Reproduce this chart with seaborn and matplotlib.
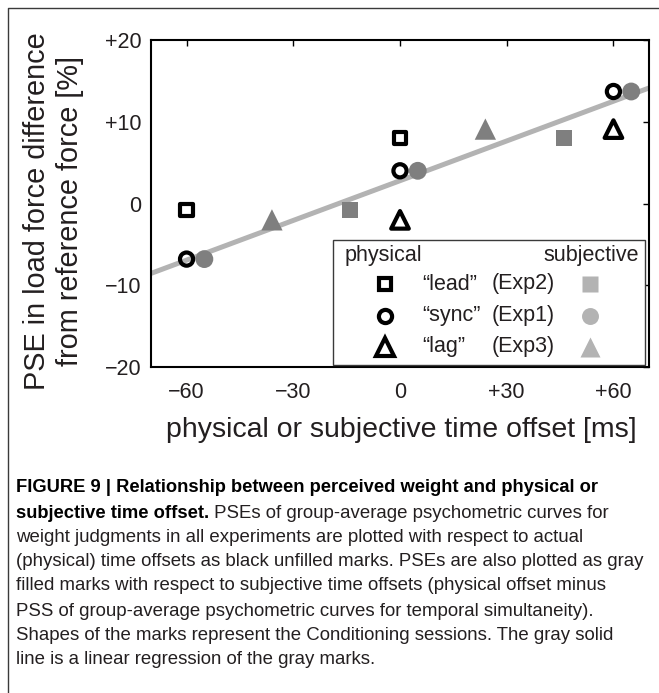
import numpy as np
import pandas as pd
import matplotlib
matplotlib.use("Agg")
import matplotlib.pyplot as plt
from matplotlib.lines import Line2D
from matplotlib.patches import Rectangle
import seaborn as sns

# PSE in load force difference [%] for each conditioning session,
# against physical and subjective time offset [ms]
sessions = ["lead", "sync", "lag"]
experiments = ["Exp2", "Exp1", "Exp3"]
phys_offset_lead = [-60, 0]
phys_offset_sync = [-60, 0, 60]
phys_offset_lag = [0, 60]
subj_offset_lead = [-14, 46]
subj_offset_sync = [-55, 5, 65]
subj_offset_lag = [-36, 24]
pse_lead = [-0.8, 8.0]
pse_sync = [-6.8, 4.0, 13.7]
pse_lag = [-2.0, 9.1]

xticks = [-60, -30, 0, 30, 60]
xtick_labels = ["\u221260", "\u221230", "0", "+30", "+60"]
yticks = [-20, -10, 0, 10, 20]
ytick_labels = ["\u221220", "\u221210", "0", "+10", "+20"]

phys = pd.DataFrame({
    "session": ["lead"] * 2 + ["sync"] * 3 + ["lag"] * 2,
    "offset": phys_offset_lead + phys_offset_sync + phys_offset_lag,
    "pse": pse_lead + pse_sync + pse_lag,
})
subj = pd.DataFrame({
    "session": ["lead"] * 2 + ["sync"] * 3 + ["lag"] * 2,
    "offset": subj_offset_lead + subj_offset_sync + subj_offset_lag,
    "pse": pse_lead + pse_sync + pse_lag,
})

sns.set_theme(style="white")
plt.rcParams["font.family"] = ["Liberation Sans", "DejaVu Sans"]
plt.rcParams["axes.unicode_minus"] = True

TEXT = "#231f20"
DARK_GRAY = "#7f7f7f"
LIGHT_GRAY = "#b3b3b3"
markers = {"lead": "s", "sync": "o", "lag": "^"}
open_size = {"lead": 78, "sync": 90, "lag": 160}
fill_size = {"lead": 133, "sync": 165, "lag": 235}

W, H = 659, 693
fig = plt.figure(figsize=(W / 100, H / 100), dpi=100)


def fx(px):
    return px / W


def fy(py):
    return 1 - py / H


ax = fig.add_axes([fx(151), fy(367), (649 - 151) / W, (367 - 40) / H])
ax.set_xlim(-70, 70)
ax.set_ylim(-20, 20)

# regression of the subjective (gray) marks across the full x range
sns.regplot(data=subj, x="offset", y="pse", scatter=False, ci=None,
            truncate=False, color=LIGHT_GRAY, ax=ax,
            line_kws=dict(lw=3.6, solid_capstyle="butt", zorder=1))

# physical offsets: black unfilled marks
for s in sessions:
    d = phys[phys.session == s]
    sns.scatterplot(data=d, x="offset", y="pse", marker=markers[s],
                    s=open_size[s], color="black", edgecolor="black",
                    linewidth=3.0, ax=ax, zorder=3, legend=False)
    ax.collections[-1].set_facecolor("none")

# subjective offsets: gray filled marks
for s in sessions:
    d = subj[subj.session == s]
    sns.scatterplot(data=d, x="offset", y="pse", marker=markers[s],
                    s=fill_size[s], color=DARK_GRAY, edgecolor="none",
                    linewidth=0, ax=ax, zorder=4, legend=False)

ax.set_xlim(-70, 70)
ax.set_ylim(-20, 20)
ax.set_xticks(xticks)
ax.set_xticklabels(xtick_labels)
ax.set_yticks(yticks)
ax.set_yticklabels(ytick_labels)
ax.set_xlabel("")
ax.set_ylabel("")
ax.tick_params(direction="in", length=4, width=1, top=True, right=True,
               colors="black", labelcolor=TEXT, labelsize=15.5)
ax.tick_params(axis="x", pad=11)
ax.tick_params(axis="y", pad=7)
for sp in ax.spines.values():
    sp.set_visible(True)
    sp.set_color("black")
    sp.set_linewidth(1.5)

# axis titles
fig.text(fx(401), fy(430), "physical or subjective time offset [ms]",
         ha="center", va="center", fontsize=20.5, color=TEXT)
fig.text(fx(37), fy(211), "PSE in load force difference", rotation=90,
         ha="center", va="center", fontsize=20.8, color=TEXT)
fig.text(fx(70), fy(211), "from reference force [%]", rotation=90,
         ha="center", va="center", fontsize=20.8, color=TEXT)

# key box
box = Rectangle((fx(333), fy(365)), (645 - 333) / W, (365 - 240) / H,
                transform=fig.transFigure, facecolor="white",
                edgecolor="#3a3a3a", linewidth=1.0, zorder=5)
fig.add_artist(box)
fig.text(fx(345), fy(255), "physical", ha="left", va="center",
         fontsize=15.5, color=TEXT, zorder=6)
fig.text(fx(639), fy(255), "subjective", ha="right", va="center",
         fontsize=15.5, color=TEXT, zorder=6)
row_y = [284, 316, 347]
row_names = ["\u201clead\u201d", "\u201csync\u201d", "\u201clag\u201d"]
for s, name, exp, yy in zip(sessions, row_names, experiments, row_y):
    ms_open = np.sqrt(open_size[s])
    ms_fill = np.sqrt(fill_size[s])
    fig.add_artist(Line2D([fx(385)], [fy(yy)], marker=markers[s],
                          markersize=ms_open, markerfacecolor="none",
                          markeredgecolor="black", markeredgewidth=3.0,
                          linestyle="none", transform=fig.transFigure,
                          zorder=6))
    fig.add_artist(Line2D([fx(590)], [fy(yy)], marker=markers[s],
                          markersize=ms_fill * 0.95,
                          markerfacecolor=LIGHT_GRAY,
                          markeredgecolor="none", linestyle="none",
                          transform=fig.transFigure, zorder=6))
    fig.text(fx(422), fy(yy), name, ha="left", va="center",
             fontsize=15.5, color=TEXT, zorder=6)
    fig.text(fx(492), fy(yy), "(" + exp + ")", ha="left", va="center",
             fontsize=15.5, color=TEXT, zorder=6)

# outer frame (left and top edges)
fig.add_artist(Line2D([fx(7.5), fx(7.5), fx(659)], [fy(693), fy(7.5), fy(7.5)],
                      transform=fig.transFigure, color="#3a3a3a", lw=1.0))

# caption
cap_font = ["Liberation Sans", "DejaVu Sans"]
title_line = "FIGURE 9 | Relationship between perceived weight and physical or"
bold_lead = "subjective time offset."
rest_line2 = " PSEs of group-average psychometric curves for"
lines = [
    "weight judgments in all experiments are plotted with respect to actual",
    "(physical) time offsets as black unfilled marks. PSEs are also plotted as gray",
    "filled marks with respect to subjective time offsets (physical offset minus",
    "PSS of group-average psychometric curves for temporal simultaneity).",
    "Shapes of the marks represent the Conditioning sessions. The gray solid",
    "line is a linear regression of the gray marks.",
]
line_y = [488, 513, 537, 562, 586, 611, 635, 660]

# fit the caption font size to the column width
renderer = fig.canvas.get_renderer()
probe = fig.text(0, 0, lines[1], fontsize=13, family=cap_font)
reg_w = probe.get_window_extent(renderer).width
probe.remove()
cap_size = 13 * 629 / reg_w
probe = fig.text(0, 0, title_line, fontsize=13, family=cap_font,
                 fontweight="bold")
bold_w = probe.get_window_extent(renderer).width
probe.remove()
bold_size = min(13 * 581 / bold_w, cap_size)

x0 = fx(16)
fig.text(x0, fy(line_y[0]), title_line, ha="left", va="center",
         fontsize=bold_size, fontweight="bold", family=cap_font,
         color="black")
t_bold = fig.text(x0, fy(line_y[1]), bold_lead, ha="left", va="center",
                  fontsize=bold_size, fontweight="bold", family=cap_font,
                  color="black")
ax.annotate(rest_line2, xy=(1, 0.5), xycoords=t_bold, ha="left",
            va="center", fontsize=cap_size, family=cap_font, color=TEXT,
            annotation_clip=False)
for txt, yy in zip(lines, line_y[2:]):
    fig.text(x0, fy(yy), txt, ha="left", va="center", fontsize=cap_size,
             family=cap_font, color=TEXT)

fig.savefig("out.png", dpi=100)
